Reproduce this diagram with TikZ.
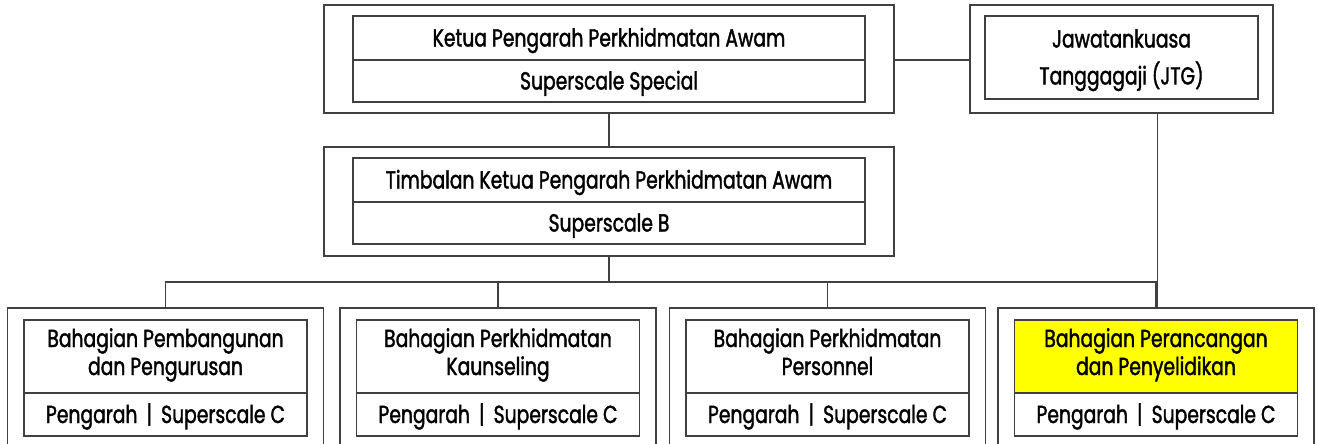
\documentclass[tikz,border=0pt]{standalone}
\usepackage{fontspec}
\setmainfont[FakeStretch=0.76, FakeBold=1.5]{Poppins}
\newdimen\pxu
\pxu=0.75pt
\definecolor{linegray}{HTML}{404040}
\definecolor{hilite}{HTML}{FFFF00}
\tikzset{
  frame/.style={draw=linegray, line width=1pt, fill=white, inner sep=0pt, outer sep=0pt},
  outerbox/.style={frame},
  rowbox/.style={frame, align=center, text=black,
    font=\fontsize{18.5pt}{21pt}\selectfont, text height=17\pxu, text depth=0pt},
  tworow/.style={rowbox, text height=45\pxu, text depth=8\pxu},
  link/.style={draw=linegray, line width=1pt},
}
\begin{document}
\begin{tikzpicture}[x=\pxu, y=-\pxu]
  \clip (0,0) rectangle (1319,443);

  % Ketua Pengarah
  \node[outerbox, minimum width=570\pxu, minimum height=108\pxu] (kpOut) at (609,59) {};
  \node[rowbox, minimum width=512\pxu, minimum height=44\pxu] (kpName) at (609,38) {Ketua Pengarah Perkhidmatan Awam};
  \node[rowbox, minimum width=512\pxu, minimum height=42\pxu] (kpGrade) at (609,81) {Superscale Special};

  % Jawatankuasa Tanggagaji
  \node[outerbox, minimum width=303\pxu, minimum height=108\pxu] (jtgOut) at (1121.5,59) {};
  \node[rowbox, font=\fontsize{18.5pt}{27.75pt}\selectfont, text height=54\pxu, text depth=0pt,
        minimum width=273\pxu, minimum height=83\pxu] (jtgName) at (1121.5,57.5) {Jawatankuasa\\Tanggagaji (JTG)};

  % Timbalan Ketua Pengarah
  \node[outerbox, minimum width=570\pxu, minimum height=109\pxu] (tkOut) at (609,201.5) {};
  \node[rowbox, minimum width=512\pxu, minimum height=44\pxu] (tkName) at (609,180) {Timbalan Ketua Pengarah Perkhidmatan Awam};
  \node[rowbox, minimum width=512\pxu, minimum height=42\pxu] (tkGrade) at (609,223) {Superscale B};

  % Bahagian boxes
  \node[outerbox, minimum width=316\pxu, minimum height=152\pxu] (b1Out) at (165.5,384) {};
  \node[tworow, minimum width=283\pxu, minimum height=73\pxu] (b1Name) at (165.5,356.5) {Bahagian Pembangunan\\dan Pengurusan};
  \node[rowbox, minimum width=283\pxu, minimum height=43\pxu] (b1Grade) at (165.5,414.5) {Pengarah \,|\, Superscale C};

  \node[outerbox, minimum width=316\pxu, minimum height=152\pxu] (b2Out) at (498,384) {};
  \node[tworow, minimum width=283\pxu, minimum height=73\pxu] (b2Name) at (498,356.5) {Bahagian Perkhidmatan\\Kaunseling};
  \node[rowbox, minimum width=283\pxu, minimum height=43\pxu] (b2Grade) at (498,414.5) {Pengarah \,|\, Superscale C};

  \node[outerbox, minimum width=316\pxu, minimum height=152\pxu] (b3Out) at (827.5,384) {};
  \node[tworow, minimum width=283\pxu, minimum height=73\pxu] (b3Name) at (827.5,356.5) {Bahagian Perkhidmatan\\Personnel};
  \node[rowbox, minimum width=283\pxu, minimum height=43\pxu] (b3Grade) at (827.5,414.5) {Pengarah \,|\, Superscale C};

  \node[outerbox, minimum width=316\pxu, minimum height=152\pxu] (b4Out) at (1156,384) {};
  \node[tworow, fill=hilite, minimum width=283\pxu, minimum height=73\pxu] (b4Name) at (1156,356.5) {Bahagian Perancangan\\dan Penyelidikan};
  \node[rowbox, minimum width=283\pxu, minimum height=43\pxu] (b4Grade) at (1156,414.5) {Pengarah \,|\, Superscale C};

  % connectors
  \coordinate (busY) at (0,282);
  \draw[link] (kpOut.east |- kpName.south) -- (jtgOut.west |- kpName.south);
  \draw[link] (kpOut.south) -- (tkOut.north);
  \draw[link] (tkOut.south) -- (tkOut.south |- busY);
  \draw[link] (b1Out.north) -- (b1Out.north |- busY) -- (b4Out.north |- busY) -- (b4Out.north);
  \draw[link] (b2Out.north) -- (b2Out.north |- busY);
  \draw[link] (b3Out.north) -- (b3Out.north |- busY);
  \draw[link] ([xshift=1.5\pxu]b4Out.north |- jtgOut.south) -- ([xshift=1.5\pxu]b4Out.north);
\end{tikzpicture}
\end{document}
